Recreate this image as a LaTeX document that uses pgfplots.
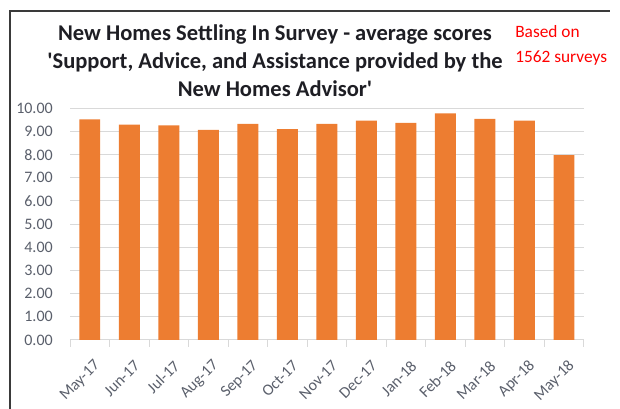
\documentclass[border=0pt]{standalone}
\usepackage{pgfplots}
\pgfplotsset{compat=1.18}
\usepackage{fontspec}
\setmainfont{Carlito}

\definecolor{barorange}{HTML}{ED7D31}
\definecolor{gridgrey}{HTML}{D9D9D9}
\definecolor{ticktext}{HTML}{5A5F6B}
\definecolor{titletext}{HTML}{1E1E24}
\definecolor{framegrey}{HTML}{3A3A3A}

\pgfplotstableread{
idx score
0  9.52
1  9.29
2  9.26
3  9.07
4  9.33
5  9.10
6  9.33
7  9.47
8  9.37
9  9.78
10 9.54
11 9.47
12 7.98
}\scores

\begin{document}
\begin{tikzpicture}
\path[use as bounding box] (0,0) rectangle (465pt,306.75pt);
\draw[framegrey, line width=1.5pt] (7.5pt,-5pt) -- (7.5pt,298.5pt) -- (457.5pt,298.5pt);

% title, three lines
\node[anchor=base, font=\fontsize{16.9}{19}\selectfont\bfseries, text=titletext]
  at (206.25pt,276pt) {New Homes Settling In Survey - average scores};
\node[anchor=base, font=\fontsize{16.9}{19}\selectfont\bfseries, text=titletext]
  at (206.25pt,255.5pt) {\textquotesingle Support, Advice, and Assistance provided by the};
\node[anchor=base, font=\fontsize{16.9}{19}\selectfont\bfseries, text=titletext]
  at (206.25pt,234.2pt) {New Homes Advisor\textquotesingle};

% note in red
\node[anchor=base west, font=\fontsize{13}{15}\selectfont, text=red, inner sep=0pt]
  at (386.25pt,278.25pt) {Based on};
\node[anchor=base west, font=\fontsize{13}{15}\selectfont, text=red, inner sep=0pt]
  at (386.25pt,259.5pt) {1562 surveys};

\begin{axis}[
    at={(52.5pt,51.75pt)}, anchor=south west,
    scale only axis,
    width=385.3pt, height=173.8pt,
    xmin=-0.5, xmax=12.5,
    ymin=0, ymax=10,
    ytick={0,1,...,10},
    xtick=data,
    xticklabels={May-17,Jun-17,Jul-17,Aug-17,Sep-17,Oct-17,Nov-17,Dec-17,Jan-18,Feb-18,Mar-18,Apr-18,May-18},
    minor xtick={-0.5,0.5,...,12.5},
    major tick length=0pt,
    minor tick length=5pt,
    tick align=outside,
    minor tick style={gridgrey, line width=0.75pt},
    axis x line*=bottom,
    axis y line*=left,
    x axis line style={gridgrey, line width=0.75pt},
    y axis line style={draw=none},
    ymajorgrids,
    grid style={gridgrey, line width=0.75pt},
    /pgf/number format/assume math mode=true,
    yticklabel={\pgfmathprintnumber[fixed, fixed zerofill, precision=2]{\tick}},
    yticklabel style={anchor=east, inner sep=0pt, xshift=-12.75pt,
        font=\fontsize{12}{14}\selectfont, text=ticktext},
    xticklabel style={xshift=6pt, yshift=-17.5pt, rotate=45, anchor=east, inner sep=0pt,
        font=\fontsize{12}{14}\selectfont, text=ticktext},
    ybar, bar width=0.53,
    clip=false,
]
\addplot[fill=barorange, draw=none] table[x=idx, y=score] {\scores};
\end{axis}
\end{tikzpicture}
\end{document}
